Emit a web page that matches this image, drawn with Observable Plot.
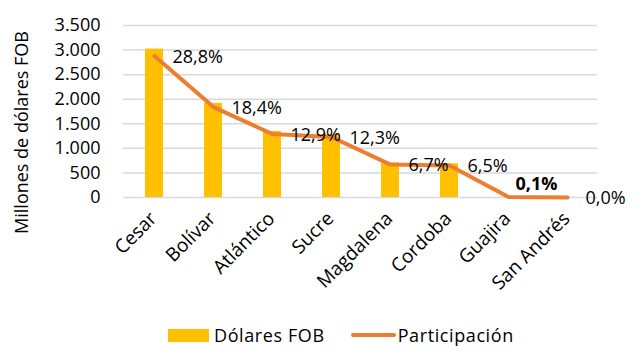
<!DOCTYPE html>
<html>
<head>
<meta charset="utf-8">
<script src="https://cdn.jsdelivr.net/npm/d3@7"></script>
<script src="https://cdn.jsdelivr.net/npm/@observablehq/plot@0.6"></script>
<style>
  html, body { margin: 0; padding: 0; background: #fff; }
  #chart { width: 643px; height: 360px; position: relative; font-family: "Open Sans", sans-serif; }
  .legend { position: absolute; top: 323px; left: 168px; display: flex; align-items: center; font-size: 18px; letter-spacing: 0.6px; color: #000; white-space: nowrap; }
  .legend .item { display: flex; align-items: center; }
  .legend .sw-bar { width: 41px; height: 13px; background: #FFC000; margin-right: 5px; }
  .legend .sw-line { width: 45px; height: 4px; background: #ED7D31; border-radius: 2px; margin-right: 2px; }
</style>
</head>
<body>
<div id="chart"></div>
<script>
const departamentos = ["Cesar", "Bolívar", "Atlántico", "Sucre", "Magdalena", "Cordoba", "Guajira", "San Andrés"];
const dolaresFOB = [3020, 1915, 1345, 1280, 705, 685, 6, 2];
const participacion = [28.8, 18.4, 12.9, 12.3, 6.7, 6.5, 0.1, 0.0];
const yTicks = [0, 500, 1000, 1500, 2000, 2500, 3000, 3500];
const yTitle = "Millones de dólares FOB";
const seriesNames = ["Dólares FOB", "Participación"];

const rows = departamentos.map((d, i) => ({dep: d, fob: dolaresFOB[i], pct: participacion[i]}));

const loc = d3.formatLocale({decimal: ",", thousands: ".", grouping: [3], currency: ["", ""]});
const fmtThousands = loc.format(",.0f");
const fmtPct = v => loc.format(".1f")(v) + "%";

const fontFamily = "Open Sans, sans-serif";

const plot = Plot.plot({
  width: 643,
  height: 312,
  marginLeft: 123,
  marginRight: 46,
  marginTop: 25,
  marginBottom: 115,
  style: {fontFamily, fontSize: "18px", color: "#000", background: "#fff", overflow: "visible"},
  x: {domain: departamentos, paddingInner: 0.7, paddingOuter: 0.35, align: 0.5},
  y: {domain: [0, 3500]},
  marks: [
    Plot.ruleY(yTicks, {stroke: "#d9d9d9", strokeWidth: 1.5}),
    Plot.barY(rows, {x: "dep", y: "fob", fill: "#FFC000"}),
    Plot.line(rows, {x: "dep", y: d => d.pct * 100, stroke: "#ED7D31", strokeWidth: 4, strokeLinejoin: "round", strokeLinecap: "round"}),
    Plot.text(rows.filter(d => d.dep !== "Guajira"), {x: "dep", y: d => d.pct * 100, text: d => fmtPct(d.pct), textAnchor: "start", dx: 18, dy: 1, fontSize: 18, letterSpacing: "1.2px", fill: "#000"}),
    Plot.text(rows.filter(d => d.dep === "Guajira"), {x: "dep", y: d => d.pct * 100, text: d => fmtPct(d.pct), textAnchor: "start", dx: 7, dy: -13, fontSize: 18, fontWeight: "bold", letterSpacing: "0.8px", fill: "#000"}),
    Plot.axisY(yTicks, {tickSize: 0, tickPadding: 23, tickFormat: fmtThousands, label: null, fontSize: 18, letterSpacing: "1.2px"}),
    Plot.axisX({tickSize: 0, tickRotate: -45, tickPadding: 8, label: null, fontSize: 19, letterSpacing: "1.2px", dx: -1, dy: 10}),
    Plot.text([yTitle], {frameAnchor: "left", textAnchor: "middle", text: d => d, rotate: -90, dx: -101, dy: 21, fontSize: 18, letterSpacing: "0.6px", fill: "#000"})
  ]
});

document.getElementById("chart").appendChild(plot);
const legend = document.createElement("div");
legend.className = "legend";
legend.innerHTML = `<div class="item"><div class="sw-bar"></div><span>${seriesNames[0]}</span></div>
<div class="item" style="margin-left:26px"><div class="sw-line"></div><span>${seriesNames[1]}</span></div>`;
document.getElementById("chart").appendChild(legend);
</script>
</body>
</html>
